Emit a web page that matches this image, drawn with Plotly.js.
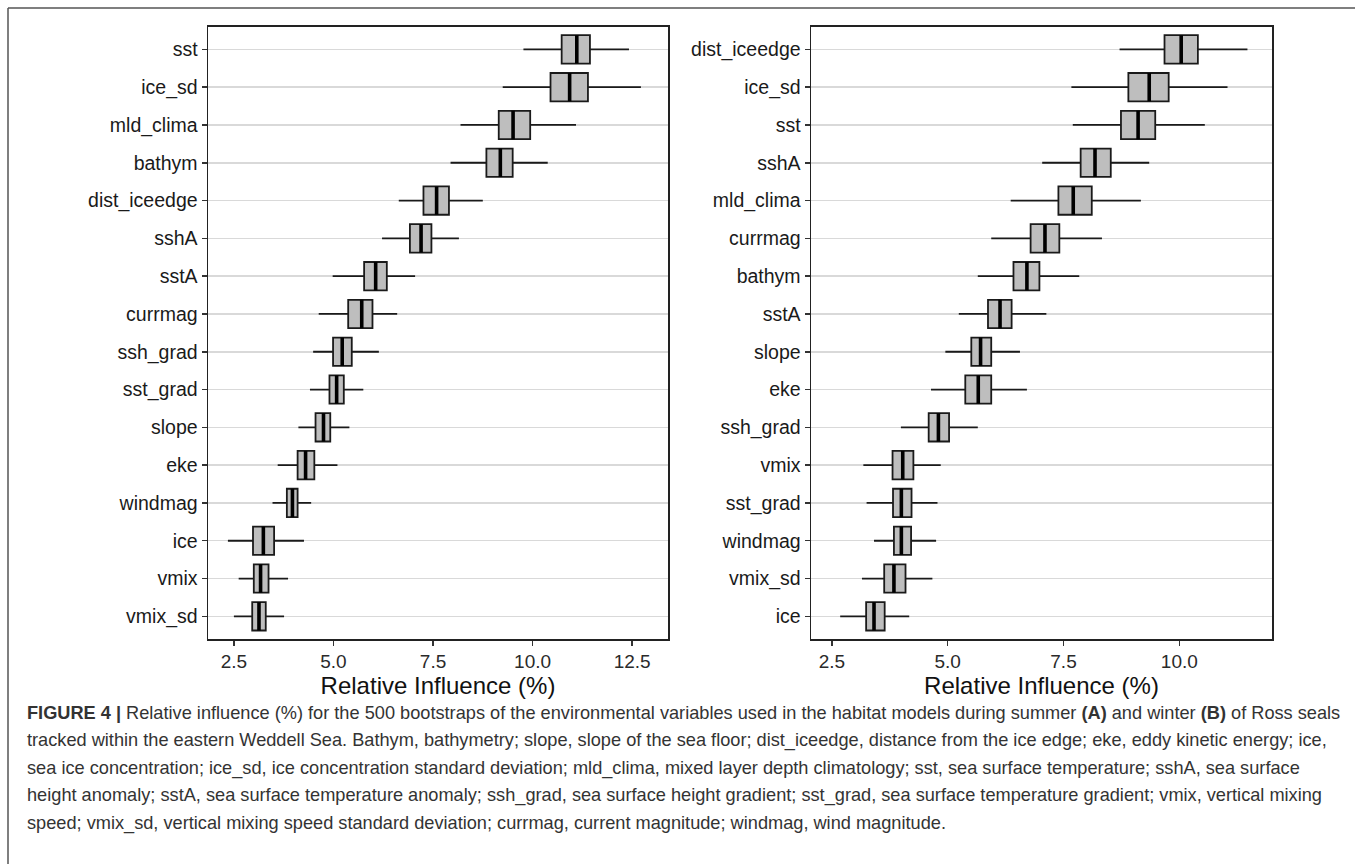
<!DOCTYPE html>
<html>
<head>
<meta charset="utf-8">
<script src="https://cdn.plot.ly/plotly-3.0.1.min.js"></script>
<style>
  html, body { margin: 0; padding: 0; background: #ffffff; }
  #chart { width: 1355px; height: 864px; }
</style>
</head>
<body>
<div id="chart"></div>
<script>
// ---- Panel A (summer) ----
const catsA = ["sst", "ice_sd", "mld_clima", "bathym", "dist_iceedge", "sshA", "sstA", "currmag",
  "ssh_grad", "sst_grad", "slope", "eke", "windmag", "ice", "vmix", "vmix_sd"];
const lowA = [9.77, 9.25, 8.19, 7.94, 6.64, 6.22, 4.98, 4.63, 4.49, 4.41, 4.12, 3.60, 3.47, 2.35, 2.62, 2.50];
const q1A  = [10.73, 10.45, 9.15, 8.84, 7.26, 6.92, 5.77, 5.37, 4.99, 4.90, 4.55, 4.10, 3.83, 2.98, 3.00, 2.96];
const medA = [11.11, 10.93, 9.51, 9.19, 7.59, 7.20, 6.06, 5.71, 5.22, 5.08, 4.75, 4.30, 3.97, 3.24, 3.17, 3.13];
const q3A  = [11.44, 11.39, 9.94, 9.50, 7.90, 7.46, 6.34, 5.98, 5.46, 5.26, 4.92, 4.52, 4.10, 3.51, 3.37, 3.30];
const upA  = [12.42, 12.72, 11.09, 10.38, 8.75, 8.15, 7.05, 6.60, 6.14, 5.75, 5.40, 5.10, 4.44, 4.26, 3.86, 3.76];

// ---- Panel B (winter) ----
const catsB = ["dist_iceedge", "ice_sd", "sst", "sshA", "mld_clima", "currmag", "bathym", "sstA",
  "slope", "eke", "ssh_grad", "vmix", "sst_grad", "windmag", "vmix_sd", "ice"];
const lowB = [8.71, 7.67, 7.70, 7.04, 6.36, 5.94, 5.65, 5.24, 4.95, 4.64, 3.99, 3.18, 3.25, 3.41, 3.15, 2.68];
const q1B  = [9.68, 8.90, 8.74, 7.87, 7.39, 6.79, 6.42, 5.87, 5.51, 5.38, 4.59, 3.81, 3.82, 3.84, 3.63, 3.24];
const medB = [10.04, 9.35, 9.11, 8.18, 7.71, 7.10, 6.71, 6.13, 5.71, 5.66, 4.80, 4.03, 4.00, 4.00, 3.84, 3.41];
const q3B  = [10.40, 9.77, 9.48, 8.52, 8.11, 7.41, 6.98, 6.38, 5.94, 5.94, 5.03, 4.26, 4.22, 4.21, 4.09, 3.64];
const upB  = [11.47, 11.04, 10.55, 9.35, 9.17, 8.33, 7.84, 7.13, 6.56, 6.71, 5.65, 4.85, 4.78, 4.75, 4.67, 4.17];

const xTickVals = [2.5, 5.0, 7.5, 10.0, 12.5];
const xTickText = ["2.5", "5.0", "7.5", "10.0", "12.5"];
const xTitle = "Relative Influence (%)";

const captionLines = [
  "<b>FIGURE 4 |</b> Relative influence (%) for the 500 bootstraps of the environmental variables used in the habitat models during summer <b>(A)</b> and winter <b>(B)</b> of Ross seals",
  "tracked within the eastern Weddell Sea. Bathym, bathymetry; slope, slope of the sea floor; dist_iceedge, distance from the ice edge; eke, eddy kinetic energy; ice,",
  "sea ice concentration; ice_sd, ice concentration standard deviation; mld_clima, mixed layer depth climatology; sst, sea surface temperature; sshA, sea surface",
  "height anomaly; sstA, sea surface temperature anomaly; ssh_grad, sea surface height gradient; sst_grad, sea surface temperature gradient; vmix, vertical mixing",
  "speed; vmix_sd, vertical mixing speed standard deviation; currmag, current magnitude; windmag, wind magnitude."
];

// ---- build ----
const W = 1355, H = 864;
const BOXW = 0.75;
const FONT = "Liberation Sans, Arial, sans-serif";

function positions(cats) { return cats.map((c, i) => cats.length - i); }

function boxTrace(cats, lo, q1, med, q3, up, xa, ya) {
  return {
    type: "box", orientation: "h",
    y: positions(cats), q1: q1, median: med, q3: q3, lowerfence: lo, upperfence: up,
    width: BOXW, whiskerwidth: 0, boxpoints: false,
    fillcolor: "#BEBEBE", line: { color: "#1a1a1a", width: 1.8 },
    xaxis: xa, yaxis: ya, hoverinfo: "skip"
  };
}
function medianTrace(cats, med, xa, ya) {
  const pos = positions(cats);
  const xs = [], ys = [];
  med.forEach((m, i) => { xs.push(m, m, null); ys.push(pos[i] - BOXW / 2, pos[i] + BOXW / 2, null); });
  return { type: "scatter", mode: "lines", x: xs, y: ys, line: { color: "#000", width: 3.6 },
    xaxis: xa, yaxis: ya, hoverinfo: "skip" };
}

const data = [
  boxTrace(catsA, lowA, q1A, medA, q3A, upA, "x", "y"),
  medianTrace(catsA, medA, "x", "y"),
  boxTrace(catsB, lowB, q1B, medB, q3B, upB, "x2", "y2"),
  medianTrace(catsB, medB, "x2", "y2")
];

const yDom = [1 - 639 / H, 1 - 26.7 / H];

function xAxis(domain, range, anchor) {
  return {
    domain: domain, range: range, anchor: anchor,
    tickvals: xTickVals, ticktext: xTickText,
    ticks: "outside", ticklen: 5, tickwidth: 1.5, tickcolor: "#333",
    showline: true, mirror: true, linecolor: "#222", linewidth: 1.5,
    showgrid: false, zeroline: false, automargin: false,
    tickfont: { family: FONT, size: 19, color: "#2a2a2a" },
    title: { text: xTitle, font: { family: FONT, size: 24, color: "#111" }, standoff: 2 }
  };
}
function yAxis(cats, anchor) {
  return {
    domain: yDom, range: [0.4, cats.length + 0.6], anchor: anchor,
    tickvals: positions(cats), ticktext: cats,
    ticks: "outside", ticklen: 5, tickwidth: 1.5, tickcolor: "#333",
    showline: true, mirror: true, linecolor: "#222", linewidth: 1.5,
    showgrid: true, gridcolor: "#d9d9d9", gridwidth: 1.5, zeroline: false, automargin: false,
    tickfont: { family: FONT, size: 19.5, color: "#1a1a1a" }
  };
}

const annotations = captionLines.map((t, i) => ({
  xref: "paper", yref: "paper", x: 25 / W, y: 1 - (713 + i * 27.5) / H,
  xanchor: "left", yanchor: "middle", showarrow: false, align: "left",
  text: t, font: { family: FONT, size: 18.2, color: "#333" }
}));

const layout = {
  width: W, height: H, margin: { l: 0, r: 0, t: 0, b: 0 },
  paper_bgcolor: "#fff", plot_bgcolor: "#fff", showlegend: false,
  font: { family: FONT },
  xaxis: xAxis([208 / W, 668 / W], [1.85, 13.4], "y"),
  yaxis: yAxis(catsA, "x"),
  xaxis2: xAxis([811 / W, 1272 / W], [2.05, 12.0], "y2"),
  yaxis2: yAxis(catsB, "x2"),
  annotations: annotations,
  shapes: [
    { type: "line", xref: "paper", yref: "paper", x0: 8 / W, x1: 1, y0: 1 - 8 / H, y1: 1 - 8 / H,
      line: { color: "#555", width: 1.5 } },
    { type: "line", xref: "paper", yref: "paper", x0: 8 / W, x1: 8 / W, y0: 1 - 8 / H, y1: 0,
      line: { color: "#555", width: 1.5 } }
  ]
};

Plotly.newPlot("chart", data, layout, { staticPlot: true, displayModeBar: false });
</script>
</body>
</html>
